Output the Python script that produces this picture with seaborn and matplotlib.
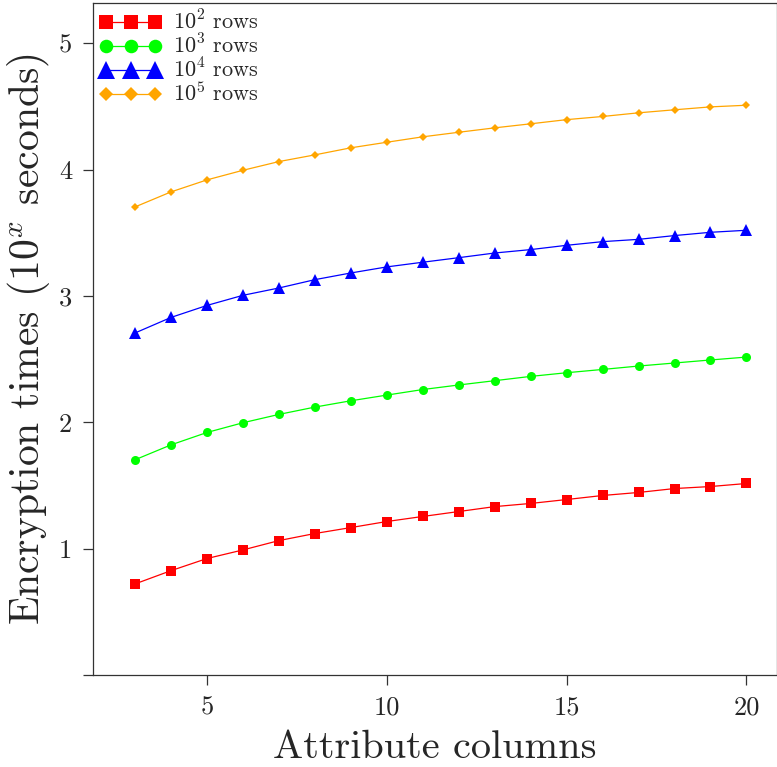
import matplotlib
matplotlib.use("Agg")
import matplotlib.pyplot as plt
import seaborn as sns
import pandas as pd

# Attribute column counts on the x axis
columns = list(range(3, 21))

# log10 of encryption time in seconds, one list per table size
times_1e2 = [0.721, 0.826, 0.922, 0.990, 1.064, 1.120, 1.167, 1.215, 1.255,
             1.294, 1.333, 1.358, 1.389, 1.421, 1.445, 1.476, 1.492, 1.516]
times_1e3 = [1.704, 1.822, 1.920, 1.997, 2.063, 2.121, 2.171, 2.216, 2.260,
             2.296, 2.330, 2.364, 2.393, 2.419, 2.446, 2.470, 2.494, 2.517]
times_1e4 = [2.708, 2.831, 2.926, 3.006, 3.064, 3.130, 3.183, 3.231, 3.268,
             3.304, 3.341, 3.368, 3.402, 3.431, 3.449, 3.479, 3.505, 3.521]
times_1e5 = [3.706, 3.825, 3.920, 3.996, 4.065, 4.118, 4.174, 4.218, 4.261,
             4.297, 4.332, 4.364, 4.397, 4.422, 4.451, 4.475, 4.498, 4.511]

series_labels = [r"$10^2$ rows", r"$10^3$ rows", r"$10^4$ rows", r"$10^5$ rows"]
series_values = [times_1e2, times_1e3, times_1e4, times_1e5]
series_colors = ["#ff0000", "#00ff00", "#0000ff", "#ffa500"]
series_markers = ["s", "o", "^", "D"]
series_msizes = [7, 6.5, 8.5, 4.5]

x_ticks = [5, 10, 15, 20]
y_ticks = [0, 1, 2, 3, 4, 5]
y_tick_labels = ["", "1", "2", "3", "4", "5"]

sns.set_style("ticks")
plt.rcParams["font.family"] = "serif"
plt.rcParams["font.serif"] = ["cmr10"]
plt.rcParams["mathtext.fontset"] = "cm"
plt.rcParams["axes.formatter.use_mathtext"] = True
plt.rcParams["axes.unicode_minus"] = False

fig = plt.figure(figsize=(7.77, 7.67), dpi=100)
ax = fig.add_axes([0.1197, 0.12, 0.8803, 0.876])

frames = []
for label, vals in zip(series_labels, series_values):
    frames.append(pd.DataFrame({"columns": columns, "time": vals, "series": label}))
df = pd.concat(frames, ignore_index=True)

for label, color, marker, ms in zip(series_labels, series_colors, series_markers, series_msizes):
    sub = df[df["series"] == label]
    sns.lineplot(data=sub, x="columns", y="time", ax=ax, color=color,
                 marker=marker, markersize=ms, markeredgewidth=0,
                 linewidth=0.9, label=label)

ax.set_xlim(1.83, 20.85)
ax.set_ylim(0, 5.32)
ax.set_xticks(x_ticks)
ax.set_xticklabels([str(t) for t in x_ticks])
ax.set_yticks(y_ticks)
ax.set_yticklabels(y_tick_labels)
ax.tick_params(direction="out", length=7, width=0.9, labelsize=19, color="#333333", pad=8)

for side in ["left", "bottom", "top", "right"]:
    ax.spines[side].set_visible(True)
    ax.spines[side].set_color("#333333")
    ax.spines[side].set_linewidth(0.9)

ax.set_xlabel("Attribute columns", fontsize=29, labelpad=8)
ax.set_ylabel(r"Encryption times ($10^x$ seconds)", fontsize=30, labelpad=5)

leg = ax.legend(loc="upper left", frameon=False, fontsize=16, numpoints=3,
                markerscale=1.5, handlelength=2.8, handletextpad=0.5,
                labelspacing=0.0, borderaxespad=0.0, borderpad=0.3)

fig.savefig("out.png", dpi=100)
